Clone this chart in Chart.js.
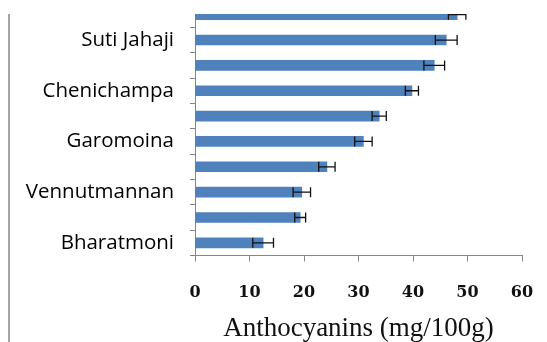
<!DOCTYPE html>
<html>
<head>
<meta charset="utf-8">
<script src="https://cdn.jsdelivr.net/npm/chart.js@4"></script>
<style>
    body { margin: 0; background: #fff; }
    #page { position: relative; width: 547px; height: 342px; overflow: hidden; background: #fff; }
    #border { position: absolute; left: 8px; top: 14px; width: 2px; height: 328px; background: #a6a6a6; }
    #clip { position: absolute; left: 0; top: 14px; width: 547px; height: 328px; overflow: hidden; }
    #clip canvas { position: absolute; left: 0; top: -14px; }
</style>
</head>
<body>
<div id="page">
    <div id="border"></div>
    <div id="clip"><canvas id="anthoChart" width="547" height="342"></canvas></div>
</div>
<script>
// ==================== Data (top to bottom) ====================
const genotypes = ['', 'Suti Jahaji', '', 'Chenichampa', '', 'Garomoina', '', 'Vennutmannan', '', 'Bharatmoni'];
const anthocyanins = [48.1, 46.1, 43.9, 39.8, 33.8, 30.9, 24.2, 19.6, 19.3, 12.5];
const errors = [1.6, 2.0, 1.9, 1.2, 1.3, 1.6, 1.5, 1.6, 1.0, 1.9];
const xTicks = [0, 10, 20, 30, 40, 50, 60];

// ==================== Error Bars Plugin ====================
const errorBars = {
    id: 'errorBars',
    afterDatasetsDraw(chart) {
        const ctx = chart.ctx;
        const xScale = chart.scales.x;
        const meta = chart.getDatasetMeta(0);
        ctx.save();
        ctx.strokeStyle = '#111';
        ctx.lineWidth = 1.3;
        meta.data.forEach((bar, i) => {
            const y = bar.y;
            const x1 = xScale.getPixelForValue(anthocyanins[i] - errors[i]);
            const x2 = xScale.getPixelForValue(anthocyanins[i] + errors[i]);
            ctx.beginPath();
            ctx.moveTo(x1, y);
            ctx.lineTo(x2, y);
            ctx.moveTo(x1, y - 5);
            ctx.lineTo(x1, y + 5);
            ctx.moveTo(x2, y - 5);
            ctx.lineTo(x2, y + 5);
            ctx.stroke();
        });
        ctx.restore();
    }
};

// ==================== Chart ====================
const ctx = document.getElementById('anthoChart').getContext('2d');
const anthoChart = new Chart(ctx, {
    type: 'bar',
    data: {
        labels: genotypes,
        datasets: [{
            label: 'Anthocyanins',
            data: anthocyanins,
            backgroundColor: '#4F81BD',
            barThickness: 10
        }]
    },
    options: {
        indexAxis: 'y',
        responsive: false,
        animation: false,
        layout: { padding: { left: 0, right: 25, top: 2, bottom: 0 } },
        plugins: {
            legend: { display: false },
            tooltip: { enabled: false }
        },
        scales: {
            y: {
                afterFit: (scale) => {
                    scale.width = 195;
                    scale.paddingTop = 0;
                    scale.paddingBottom = 0;
                },
                grid: { offset: true, drawOnChartArea: false, tickLength: 5, color: '#868686' },
                border: { color: '#868686', width: 1 },
                ticks: {
                    autoSkip: false,
                    padding: 16,
                    color: '#000',
                    font: { family: 'Open Sans', size: 20.5 }
                }
            },
            x: {
                min: 0,
                max: 60,
                afterFit: (scale) => {
                    scale.height = 86.5;
                    scale.paddingLeft = 0;
                    scale.paddingRight = 0;
                },
                afterBuildTicks: (scale) => { scale.ticks = xTicks.map(v => ({ value: v })); },
                grid: { drawOnChartArea: false, tickLength: 6, color: '#868686' },
                border: { color: '#868686', width: 1 },
                ticks: {
                    padding: 22,
                    color: '#111',
                    font: { family: 'DejaVu Serif', size: 16, weight: 'bold' }
                },
                title: {
                    display: true,
                    text: 'Anthocyanins (mg/100g)',
                    color: '#111',
                    padding: 0,
                    font: { family: 'Liberation Serif', size: 27, lineHeight: 1 }
                }
            }
        }
    },
    plugins: [errorBars]
});
</script>
</body>
</html>
